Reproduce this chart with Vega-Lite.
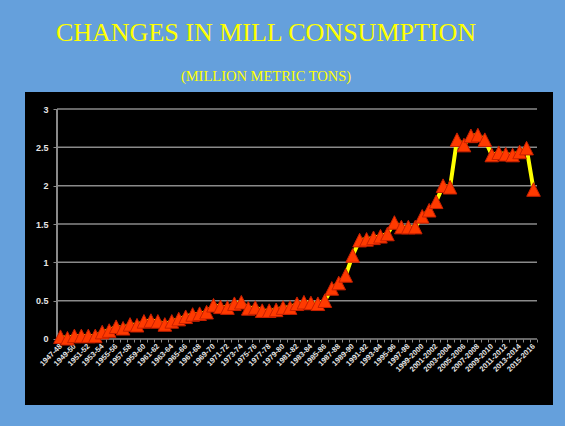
{
  "$schema": "https://vega.github.io/schema/vega-lite/v6.json",
  "width": 528,
  "height": 313,
  "autosize": {"type": "none"},
  "padding": {"left": 25, "top": 92, "right": 12, "bottom": 21},
  "background": "#65a0dc",
  "config": {"view": {"fill": "black", "stroke": null}},
  "title": {
    "text": "CHANGES IN MILL CONSUMPTION",
    "subtitle": "(MILLION METRIC TONS)",
    "font": "Liberation Serif",
    "fontSize": 26,
    "fontWeight": "normal",
    "color": "#ffff00",
    "subtitleFont": "Liberation Serif",
    "subtitleFontSize": 14.5,
    "subtitleColor": "#ffff00",
    "subtitlePadding": 24,
    "anchor": "middle",
    "frame": "group",
    "dx": -23,
    "offset": 9
  },
  "data": {
    "values": [
      {"year": "1947-48", "value": 0.03},
      {"year": "1948-49", "value": 0.01},
      {"year": "1949-50", "value": 0.04},
      {"year": "1950-51", "value": 0.04},
      {"year": "1951-52", "value": 0.04},
      {"year": "1952-53", "value": 0.04},
      {"year": "1953-54", "value": 0.09},
      {"year": "1954-55", "value": 0.11},
      {"year": "1955-56", "value": 0.16},
      {"year": "1956-57", "value": 0.14},
      {"year": "1957-58", "value": 0.19},
      {"year": "1958-59", "value": 0.18},
      {"year": "1959-60", "value": 0.23},
      {"year": "1960-61", "value": 0.24},
      {"year": "1961-62", "value": 0.23},
      {"year": "1962-63", "value": 0.19},
      {"year": "1963-64", "value": 0.23},
      {"year": "1964-65", "value": 0.26},
      {"year": "1965-66", "value": 0.29},
      {"year": "1966-67", "value": 0.32},
      {"year": "1967-68", "value": 0.33},
      {"year": "1968-69", "value": 0.35},
      {"year": "1969-70", "value": 0.44},
      {"year": "1970-71", "value": 0.42},
      {"year": "1971-72", "value": 0.41},
      {"year": "1972-73", "value": 0.46},
      {"year": "1973-74", "value": 0.48},
      {"year": "1974-75", "value": 0.40},
      {"year": "1975-76", "value": 0.41},
      {"year": "1976-77", "value": 0.37},
      {"year": "1977-78", "value": 0.37},
      {"year": "1978-79", "value": 0.38},
      {"year": "1979-80", "value": 0.41},
      {"year": "1980-81", "value": 0.41},
      {"year": "1981-82", "value": 0.46},
      {"year": "1982-83", "value": 0.48},
      {"year": "1983-84", "value": 0.47},
      {"year": "1984-85", "value": 0.46},
      {"year": "1985-86", "value": 0.50},
      {"year": "1986-87", "value": 0.66},
      {"year": "1987-88", "value": 0.73},
      {"year": "1988-89", "value": 0.83},
      {"year": "1989-90", "value": 1.09},
      {"year": "1990-91", "value": 1.29},
      {"year": "1991-92", "value": 1.30},
      {"year": "1992-93", "value": 1.32},
      {"year": "1993-94", "value": 1.34},
      {"year": "1994-95", "value": 1.37},
      {"year": "1995-96", "value": 1.52},
      {"year": "1996-97", "value": 1.46},
      {"year": "1997-98", "value": 1.46},
      {"year": "1998-99", "value": 1.46},
      {"year": "1999-2000", "value": 1.60},
      {"year": "2000-2001", "value": 1.68},
      {"year": "2001-2002", "value": 1.79},
      {"year": "2002-2003", "value": 2.00},
      {"year": "2003-2004", "value": 1.98},
      {"year": "2004-2005", "value": 2.60},
      {"year": "2005-2006", "value": 2.53},
      {"year": "2006-2007", "value": 2.65},
      {"year": "2007-2008", "value": 2.66},
      {"year": "2008-2009", "value": 2.60},
      {"year": "2009-2010", "value": 2.40},
      {"year": "2010-2011", "value": 2.43},
      {"year": "2011-2012", "value": 2.41},
      {"year": "2012-2013", "value": 2.40},
      {"year": "2013-2014", "value": 2.44},
      {"year": "2014-2015", "value": 2.49},
      {"year": "2015-2016", "value": 1.95}
    ]
  },
  "layer": [
    {
      "data": {"values": [{"g": 0}, {"g": 0.5}, {"g": 1}, {"g": 1.5}, {"g": 2}, {"g": 2.5}, {"g": 3}]},
      "mark": {"type": "rule", "color": "#8a8a8a", "strokeWidth": 1.5},
      "encoding": {
        "y": {
          "field": "g",
          "type": "quantitative",
          "scale": {"domain": [-0.861, 3.222], "nice": false, "zero": false},
          "axis": {
            "title": null,
            "values": [0, 0.5, 1, 1.5, 2, 2.5, 3],
            "format": "~g",
            "grid": false,
            "domain": false,
            "offset": -32,
            "tickSize": 4,
            "tickColor": "#8a8a8a",
            "labelPadding": 5,
            "labelFont": "Liberation Sans",
            "labelFontWeight": "bold",
            "labelFontSize": 9,
            "labelColor": "#e6e6e6"
          }
        },
        "x": {
          "datum": "1947-48",
          "type": "nominal",
          "bandPosition": 0,
          "scale": {
            "type": "band",
            "domain": ["1947-48","1948-49","1949-50","1950-51","1951-52","1952-53","1953-54","1954-55","1955-56","1956-57","1957-58","1958-59","1959-60","1960-61","1961-62","1962-63","1963-64","1964-65","1965-66","1966-67","1967-68","1968-69","1969-70","1970-71","1971-72","1972-73","1973-74","1974-75","1975-76","1976-77","1977-78","1978-79","1979-80","1980-81","1981-82","1982-83","1983-84","1984-85","1985-86","1986-87","1987-88","1988-89","1989-90","1990-91","1991-92","1992-93","1993-94","1994-95","1995-96","1996-97","1997-98","1998-99","1999-2000","2000-2001","2001-2002","2002-2003","2003-2004","2004-2005","2005-2006","2006-2007","2007-2008","2008-2009","2009-2010","2010-2011","2011-2012","2012-2013","2013-2014","2014-2015","2015-2016"],
            "range": [32, 512],
            "paddingInner": 0,
            "paddingOuter": 0
          },
          "axis": {
            "title": null,
            "orient": "bottom",
            "offset": -66,
            "domain": false,
            "ticks": true,
            "tickBand": "extent",
            "tickSize": 3,
            "tickColor": "#8a8a8a",
            "labelAngle": -45,
            "labelAlign": "right",
            "labelBaseline": "middle",
            "labelPadding": 3,
            "labelFont": "Liberation Sans",
            "labelFontWeight": "bold",
            "labelFontSize": 7.5,
            "labelColor": "#e6e6e6",
            "labelOverlap": false,
            "labelExpr": "toNumber(substring(datum.value, 0, 4)) % 2 == 1 ? datum.label : ''"
          }
        },
        "x2": {"datum": "2015-2016", "bandPosition": 1}
      }
    },
    {
      "mark": {"type": "rule", "color": "#8a8a8a", "strokeWidth": 1.5},
      "encoding": {
        "x": {"datum": "1947-48", "type": "nominal", "bandPosition": 0},
        "y": {"datum": 0, "type": "quantitative"},
        "y2": {"datum": 3}
      }
    },
    {
      "mark": {"type": "line", "color": "#ffff00", "strokeWidth": 4},
      "encoding": {
        "x": {"field": "year", "type": "nominal", "sort": null},
        "y": {"field": "value", "type": "quantitative"}
      }
    },
    {
      "mark": {"type": "point", "shape": "M0,-1L1,1L-1,1Z", "filled": true, "fill": "#ff3a00", "stroke": "#c82000", "strokeWidth": 1, "size": 185, "opacity": 1},
      "encoding": {
        "x": {"field": "year", "type": "nominal", "sort": null},
        "y": {"field": "value", "type": "quantitative"}
      }
    }
  ]
}
